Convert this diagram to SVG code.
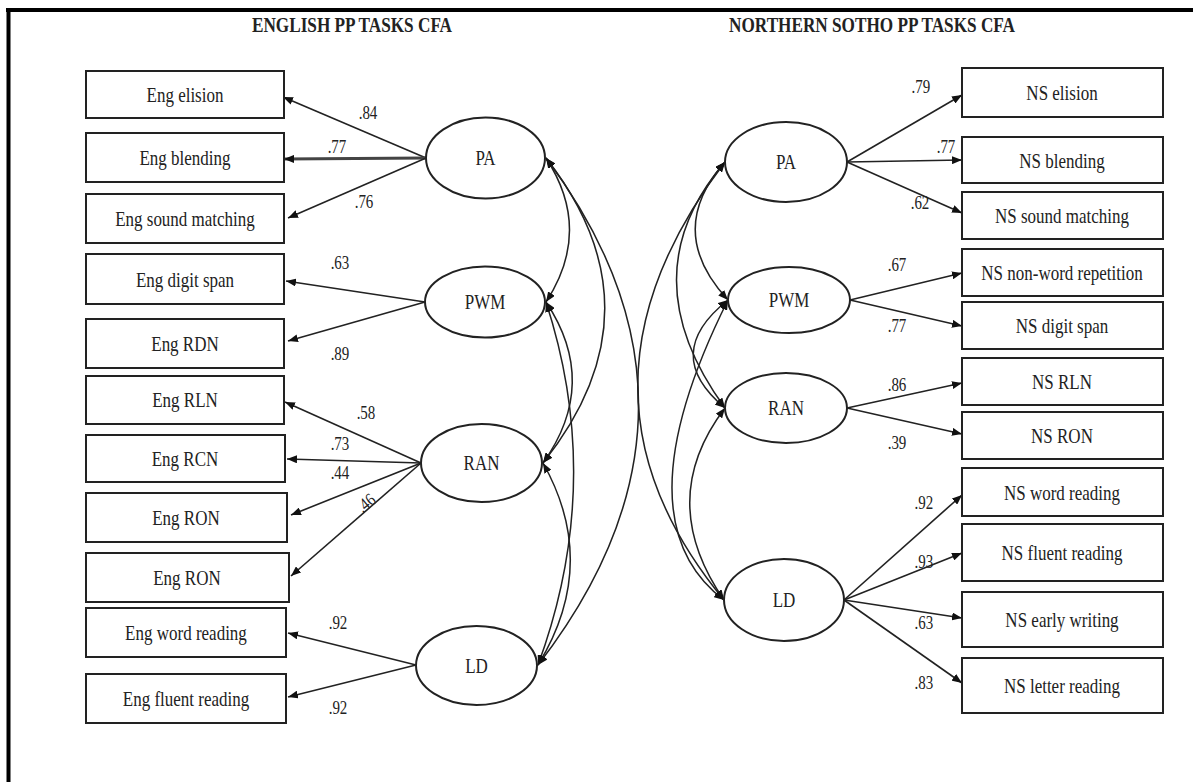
<svg xmlns="http://www.w3.org/2000/svg" width="1193" height="782" viewBox="0 0 1193 782">
<style>
.t{font-family:"Liberation Serif","Times New Roman",serif;font-size:17px;fill:#222;text-anchor:middle;dominant-baseline:central;transform-box:fill-box;transform-origin:center;transform:scaleY(1.2)}
.n{font-size:15px}
.h{font-weight:bold;font-size:17.2px;transform:scaleY(1.25)}
.box{fill:#fff;stroke:#222;stroke-width:2}
.ell{fill:#fff;stroke:#222;stroke-width:2}
.ln{fill:none;stroke:#222;stroke-width:1.6}
.cv{fill:none;stroke:#222;stroke-width:1.5}
</style>
<defs>
<marker id="ah" viewBox="0 0 10 8" refX="10" refY="4" markerWidth="10" markerHeight="8" markerUnits="userSpaceOnUse" orient="auto-start-reverse">
<path d="M0,0 L10,4 L0,8 z" fill="#111"/>
</marker>
</defs>
<rect width="1193" height="782" fill="#fff"/>
<g id="frame">
<line x1="6" y1="10" x2="1193" y2="10" stroke="#000" stroke-width="4"/>
<line x1="8.5" y1="8" x2="8.5" y2="782" stroke="#000" stroke-width="4"/>
</g>
<g id="titles">
<text class="t h" x="352" y="25">ENGLISH PP TASKS CFA</text>
<text class="t h" x="872" y="25">NORTHERN SOTHO PP TASKS CFA</text>
</g>
<g id="connectors">
<g class="ln" marker-end="url(#ah)">
<path d="M426,158 L283,97"/>
<path d="M426,158 L284,159" stroke-width="3.2" stroke="#444"/>
<path d="M426,158 L288,218"/>
<path d="M425,302 L286,281"/>
<path d="M425,302 L288,341"/>
<path d="M421,463 L285,402"/>
<path d="M421,463 L287,459"/>
<path d="M421,463 L291,515"/>
<path d="M421,463 L291,576"/>
<path d="M416,665 L288,633"/>
<path d="M416,665 L288,697"/>
<path d="M847,162 L962,95"/>
<path d="M847,162 L962,160"/>
<path d="M847,162 L962,213"/>
<path d="M850,300 L962,273"/>
<path d="M850,300 L962,326"/>
<path d="M847,408 L962,383"/>
<path d="M847,408 L962,434"/>
<path d="M844,600 L962,495"/>
<path d="M844,600 L962,553"/>
<path d="M844,600 L962,618"/>
<path d="M844,600 L962,683"/>
</g>
<g class="cv" marker-start="url(#ah)" marker-end="url(#ah)">
<path d="M546,158 Q593,230 546,302"/>
<path d="M546,158 Q665,310 543,463"/>
<path d="M546,158 Q735,410 538,665"/>
<path d="M546,302 Q600,383 543,463"/>
<path d="M546,302 Q605,483 538,665"/>
<path d="M543,463 Q600,564 538,665"/>
<path d="M725,162 Q664,231 728,300"/>
<path d="M725,162 Q628,275 725,408"/>
<path d="M725,162 Q551,390 724,600"/>
<path d="M728,300 Q660,354 725,408"/>
<path d="M728,300 Q618,520 724,600"/>
<path d="M725,408 Q655,500 724,600"/>
</g>
</g>
<g id="labels">
<text class="t n" x="368" y="113">.84</text>
<text class="t n" x="337" y="147">.77</text>
<text class="t n" x="364" y="202">.76</text>
<text class="t n" x="340" y="263">.63</text>
<text class="t n" x="340" y="354">.89</text>
<text class="t n" x="366" y="413">.58</text>
<text class="t n" x="340" y="444">.73</text>
<text class="t n" x="340" y="473">.44</text>
<g transform="rotate(-40 366 503)"><text class="t n" x="366" y="503">.46</text></g>
<text class="t n" x="338" y="623">.92</text>
<text class="t n" x="338" y="708">.92</text>
<text class="t n" x="921" y="87">.79</text>
<text class="t n" x="946" y="147">.77</text>
<text class="t n" x="920" y="203">.62</text>
<text class="t n" x="897" y="265">.67</text>
<text class="t n" x="897" y="326">.77</text>
<text class="t n" x="897" y="385">.86</text>
<text class="t n" x="897" y="443">.39</text>
<text class="t n" x="924" y="503">.92</text>
<text class="t n" x="924" y="562">.93</text>
<text class="t n" x="924" y="623">.63</text>
<text class="t n" x="924" y="683">.83</text>
</g>
<g id="eng-elision"><rect class="box" x="86" y="71" width="198" height="47"/><text class="t" x="185" y="95">Eng elision</text></g>
<g id="eng-blending"><rect class="box" x="86" y="133" width="198" height="49"/><text class="t" x="185" y="158">Eng blending</text></g>
<g id="eng-sound-matching"><rect class="box" x="86" y="194" width="198" height="49"/><text class="t" x="185" y="219">Eng sound matching</text></g>
<g id="eng-digit-span"><rect class="box" x="86" y="254" width="198" height="50"/><text class="t" x="185" y="280">Eng digit span</text></g>
<g id="eng-rdn"><rect class="box" x="86" y="319" width="198" height="49"/><text class="t" x="185" y="344">Eng RDN</text></g>
<g id="eng-rln"><rect class="box" x="86" y="376" width="198" height="48"/><text class="t" x="185" y="400">Eng RLN</text></g>
<g id="eng-rcn"><rect class="box" x="86" y="435" width="199" height="47"/><text class="t" x="185" y="459">Eng RCN</text></g>
<g id="eng-ron-1"><rect class="box" x="86" y="493" width="201" height="49"/><text class="t" x="186" y="518">Eng RON</text></g>
<g id="eng-ron-2"><rect class="box" x="86" y="553" width="203" height="49"/><text class="t" x="187" y="578">Eng RON</text></g>
<g id="eng-word-reading"><rect class="box" x="86" y="608" width="200" height="49"/><text class="t" x="186" y="633">Eng word reading</text></g>
<g id="eng-fluent-reading"><rect class="box" x="86" y="674" width="200" height="49"/><text class="t" x="186" y="699">Eng fluent reading</text></g>
<g id="ns-elision"><rect class="box" x="962" y="68" width="201" height="49"/><text class="t" x="1062" y="93">NS elision</text></g>
<g id="ns-blending"><rect class="box" x="962" y="137" width="201" height="46"/><text class="t" x="1062" y="161">NS blending</text></g>
<g id="ns-sound-matching"><rect class="box" x="962" y="192" width="201" height="47"/><text class="t" x="1062" y="216">NS sound matching</text></g>
<g id="ns-non-word-repetition"><rect class="box" x="962" y="249" width="201" height="47"/><text class="t" x="1062" y="273">NS non-word repetition</text></g>
<g id="ns-digit-span"><rect class="box" x="962" y="302" width="201" height="47"/><text class="t" x="1062" y="326">NS digit span</text></g>
<g id="ns-rln"><rect class="box" x="962" y="358" width="201" height="47"/><text class="t" x="1062" y="382">NS RLN</text></g>
<g id="ns-ron"><rect class="box" x="962" y="412" width="201" height="47"/><text class="t" x="1062" y="436">NS RON</text></g>
<g id="ns-word-reading"><rect class="box" x="962" y="468" width="201" height="48"/><text class="t" x="1062" y="493">NS word reading</text></g>
<g id="ns-fluent-reading"><rect class="box" x="962" y="524" width="201" height="57"/><text class="t" x="1062" y="553">NS fluent reading</text></g>
<g id="ns-early-writing"><rect class="box" x="962" y="592" width="201" height="55"/><text class="t" x="1062" y="620">NS early writing</text></g>
<g id="ns-letter-reading"><rect class="box" x="962" y="658" width="201" height="55"/><text class="t" x="1062" y="686">NS letter reading</text></g>
<g id="eng-pa"><ellipse class="ell" cx="485.5" cy="158" rx="59.5" ry="40.5"/><text class="t" x="485.5" y="158">PA</text></g>
<g id="eng-pwm"><ellipse class="ell" cx="485" cy="302" rx="60" ry="35.5"/><text class="t" x="485" y="302">PWM</text></g>
<g id="eng-ran"><ellipse class="ell" cx="481.5" cy="463" rx="60.5" ry="39"/><text class="t" x="481.5" y="463">RAN</text></g>
<g id="eng-ld"><ellipse class="ell" cx="476.5" cy="665.5" rx="60.5" ry="39.5"/><text class="t" x="476.5" y="665.5">LD</text></g>
<g id="ns-pa"><ellipse class="ell" cx="786" cy="162" rx="61" ry="40"/><text class="t" x="786" y="162">PA</text></g>
<g id="ns-pwm"><ellipse class="ell" cx="789" cy="300" rx="61" ry="33"/><text class="t" x="789" y="300">PWM</text></g>
<g id="ns-ran"><ellipse class="ell" cx="786" cy="408" rx="61" ry="35"/><text class="t" x="786" y="408">RAN</text></g>
<g id="ns-ld"><ellipse class="ell" cx="784" cy="600" rx="60" ry="41"/><text class="t" x="784" y="600">LD</text></g>
</svg>
